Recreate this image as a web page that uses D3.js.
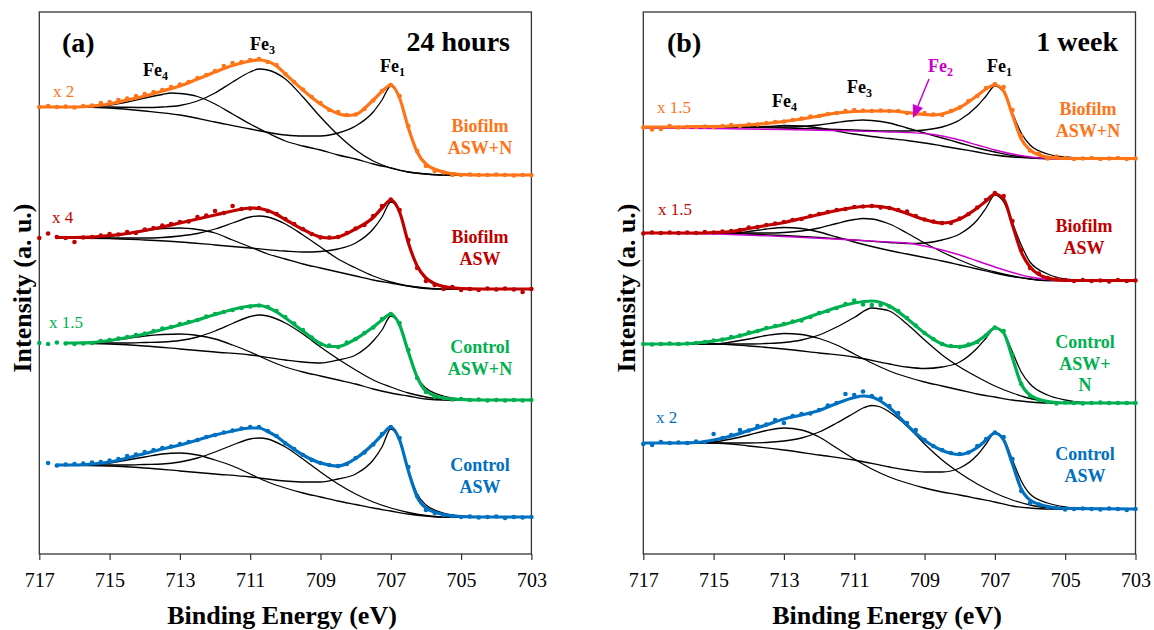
<!DOCTYPE html>
<html><head><meta charset="utf-8">
<script src="https://cdn.jsdelivr.net/npm/d3@7"></script>
<style>
body{margin:0;background:#fff}svg{display:block}
svg text{font-family:"Liberation Serif","Times New Roman",Tinos,"DejaVu Serif",serif;}
</style>
</head><body>
<svg id="chart" width="1154" height="630"></svg>
<script>
// ---------- DATA ----------
const xTicks = [717, 715, 713, 711, 709, 707, 705, 703];
const energyGrid = [717,716.75,716.5,716.25,716,715.75,715.5,715.25,715,714.75,714.5,714.25,714,713.75,713.5,713.25,713,712.75,712.5,712.25,712,711.75,711.5,711.25,711,710.75,710.5,710.25,710,709.75,709.5,709.25,709,708.75,708.5,708.25,708,707.75,707.5,707.25,707,706.75,706.5,706.25,706,705.75,705.5,705.25,705,704.75,704.5,704.25,704,703.75,703.5,703.25,703];

// Panel (a) 24 hours — measured points (intensity, a.u., stacked)
const dotsA_BioN = [447,448,447,447.5,446.5,448,448.5,451,452,454,455.5,458,460,462,464,467,469.5,472,476,479,483,488,491,492,494,495,492,489,480,472,464.5,457,451,444,442,439,439.5,445,453.5,463,469,458,428,403,388,383,381.5,379,379,379.5,379,379,379.5,379,378.5,379,379];
const dotsA_Bio = [316,320.5,317,316,312,316.5,317,318.5,320,319.5,322,321,324.5,326,328.5,330,332,332.5,337,338.5,343,341,348,345,345.5,346,343,340,335,330,325,320,316.5,316.5,317,321,325.5,329,338,348,354.5,344,314,286,273,269,265,267,264,265,264,265.5,264.5,265.5,264.5,262,265];
const dotsA_CtlN = [211,210,211.5,210.5,210,210.5,211,213,214,215.5,217,219,220.5,223,225.5,227,230,232,234,237.5,240,242,244,246,247.5,248.5,247,243,237,230.5,224,216.5,210,208.5,207,211.5,215,221,226.5,235,240,231,204,176,162,157,156,154.5,155,154,154.5,153.5,154,153.5,154,153.5,154];
const dotsA_Ctl = [null,91,88.5,89.5,90,90.5,91.5,92,93.5,95,98,99.5,102,104,106,107.5,110,112,114,117,119,121.5,123.5,125.5,127,127,123,118,110.5,105,99,94,91,89,88,90,96,101.5,109.5,120,127,116,87,58,44,41,39,38,37,37.5,36.5,37,37.5,36,37,36.5,37];

// Panel (a) fitted envelopes [BE, intensity]
const fitA_BioN = [[717,447],[716.5,447],[716,447],[715.5,448],[715,450],[714.5,454],[714,458],[713.5,463],[713,468],[712.5,475],[712,482],[711.5,488.5],[711,493],[710.75,494],[710.5,492.5],[710.25,488],[710,480],[709.5,464],[709,450],[708.5,440.5],[708.25,438.5],[708,439.5],[707.5,454],[707.25,462.5],[707,469],[706.75,456],[706.5,426],[706.25,402],[706,390],[705.5,382],[705,379.5],[704.5,379],[703,379]];
const fitA_Bio = [[716.5,316.5],[716,316.5],[715.5,317],[715,318.5],[714.5,320.5],[714,323.5],[713.5,327],[713,331],[712.5,335],[712,339],[711.5,343],[711,346],[710.75,345.5],[710.5,343.5],[710.25,339.5],[710,334.5],[709.5,324.5],[709,317],[708.75,316],[708.5,317],[708,325],[707.5,336.5],[707.25,346],[707,354],[706.75,342],[706.5,311],[706.25,288],[706,276],[705.5,267.5],[705,265.5],[704.5,265],[703,265]];
const fitA_CtlN = [[716.25,211],[716,211],[715.5,211.5],[715,213.5],[714.5,216.5],[714,220],[713.5,224.5],[713,229],[712.5,234],[712,239.5],[711.5,244.5],[711,248],[710.75,248.5],[710.5,246.5],[710.25,242],[710,236],[709.5,223],[709,210.5],[708.75,207.5],[708.5,207.5],[708,215],[707.5,227],[707.25,234],[707,240],[706.75,229],[706.5,202],[706.25,177],[706,163],[705.5,156],[705,154.5],[704.5,154],[703,154]];
const fitA_Ctl = [[716.5,89],[716,89],[715.5,90],[715,92],[714.5,96],[714,100.5],[713.5,105],[713,109],[712.5,114],[712,119],[711.5,123],[711,126],[710.75,126],[710.5,122.5],[710.25,117.5],[710,111],[709.5,99],[709,91],[708.5,88],[708.25,90.5],[708,95.5],[707.5,110],[707.25,119],[707,127],[706.75,114],[706.5,83],[706.25,57],[706,46],[705.5,39.5],[705,37.5],[704.5,37],[703,37]];

// Panel (a) components (peak + background)
const fe1A_BioN = [[717,447],[716,447],[715,446],[714,443],[713,439],[712,432],[711,425],[710,419],[709.5,418],[709,418],[708.5,421],[708,428],[707.5,442],[707.25,454],[707,468],[706.75,456],[706.5,426],[706.25,402],[706,390],[705.5,382],[705,380],[704.5,379],[703,379]];
const fe3A_BioN = [[717,447],[715,447],[714,446.5],[713.5,447],[713,448.5],[712.5,453],[712,461],[711.5,472],[711,482],[710.75,485],[710.5,484],[710,475],[709.5,457],[709,437],[708.5,419],[708,404],[707.5,393],[707,386],[706.5,382],[706,380],[705.5,379],[703,379]];
const fe4A_BioN = [[717,447],[716,447],[715.5,447.5],[715,449],[714.5,452],[714,456],[713.5,459.5],[713.25,461],[713,460.5],[712.5,457.5],[712,450],[711.5,440],[711,430],[710.5,421],[710,413],[709.5,408],[709,404],[708.5,399],[708,395],[707.5,390],[707,386],[706.5,382],[706,380],[705.5,379],[703,379]];
const fe1A_Bio = [[716.5,316],[715,315.5],[714,314],[713,312],[712,309],[711,306],[710,303],[709.5,302],[709,302.5],[708.5,305],[708,311],[707.5,325],[707.25,337],[707,352],[706.75,342],[706.5,311],[706.25,288],[706,275],[705.5,268],[705,265.5],[704.5,265],[703,265]];
const fe3A_Bio = [[716.5,316],[714,316],[713.5,316.5],[713,318],[712.5,320.5],[712,325],[711.5,331],[711,337],[710.75,338],[710.5,337],[710,330],[709.5,319],[709,307],[708.5,295],[708,286],[707.5,278],[707,272],[706.5,268],[706,265.5],[705.5,265],[703,265]];
const fe4A_Bio = [[716.5,316],[715.5,316.5],[715,317.5],[714.5,320],[714,323],[713.5,325.5],[713,326],[712.5,324.5],[712,321],[711.5,314],[711,307],[710.5,300],[710,295],[709.5,290],[709,286],[708.5,282],[708,278],[707.5,274],[707,271],[706.5,268],[706,266],[705.5,265],[703,265]];
const fe1A_CtlN = [[716.25,211],[715,210],[714,208],[713,205],[712,202],[711,199],[710,194],[709.5,192],[709,191],[708.5,194],[708,199],[707.5,213],[707.25,224],[707,238],[706.75,230],[706.5,203],[706.25,177],[706,166],[705.5,158],[705,155],[704.5,154],[703,154]];
const fe3A_CtlN = [[716.25,211],[714.5,211],[714,211.5],[713.5,212],[713,213.5],[712.5,217],[712,223],[711.5,230.5],[711,237.5],[710.75,239],[710.5,238],[710,231],[709.5,220],[709,207],[708.5,195],[708,184],[707.5,174],[707,167],[706.5,161],[706,157],[705.5,154.5],[705,154],[703,154]];
const fe4A_CtlN = [[716.25,211],[715.5,211.5],[715,213],[714.5,215.5],[714,218],[713.5,219.5],[713,220],[712.5,218.5],[712,215],[711.5,209],[711,202],[710.5,194],[710,187],[709.5,182],[709,178],[708.5,174],[708,170],[707.5,165],[707,161],[706.5,158],[706,155],[705.5,154],[703,154]];
const fe1A_Ctl = [[716.5,89],[715,88],[714,86],[713,83],[712,80],[711,77],[710,73],[709.5,72],[709,72],[708.5,75],[708,80],[707.5,94],[707.25,107],[707,125],[706.75,114],[706.5,84],[706.25,60],[706,49],[705.5,41],[705,38],[704.5,37],[703,37]];
const fe3A_Ctl = [[716.5,89],[714.5,89],[714,89.5],[713.5,90],[713,92],[712.5,96],[712,102],[711.5,109],[711,115],[710.75,116],[710.5,115],[710,107],[709.5,95],[709,82],[708.5,70],[708,60],[707.5,52],[707,46],[706.5,41.5],[706,38.5],[705.5,37],[703,37]];
const fe4A_Ctl = [[716.5,89],[715.5,89.5],[715,91],[714.5,94],[714,97],[713.5,100],[713,101],[712.5,99],[712,94],[711.5,88],[711,80],[710.5,72],[710,66],[709.5,61],[709,57],[708.5,53],[708,49.5],[707.5,46],[707,43],[706.5,40],[706,38],[705.5,37],[703,37]];

// Panel (b) 1 week — measured points
const dotsB_BioN = [426.5,424.5,425,428,426.5,427,427,427.5,427,428,429,428,429.5,429.5,431,432,432.5,434,435.5,437.5,438,440,441,443,444,443.5,443,443.5,443,443,441,440,441,439.5,439,443,446.5,453,458,466,470,467,444,418,403.5,400.5,395.5,397.5,396,395,395.5,396,395,395.5,396,395,395.5];
const dotsB_Bio = [320.5,321.5,321,321.5,321,321.5,321,322,321.5,322.5,323,324,326.5,327,329,330.5,332,334,335,338,340,342,344,345,347,347.5,348,346.5,346,344,342.5,338,334.5,332.5,331,331,335.5,340,346.5,354,361,358,333,304,286,280.5,276,275,274,273,274,273,273.5,272.5,274,273,273.5];
const dotsB_CtlN = [210,209.5,210,210.5,210,210.5,211,212,213.5,214.5,217,218.5,221.5,223,226,228,230,232.5,233.5,237,241,243,246,250,253.5,249.5,249,249,247.5,243,236,228.5,221,215,210,208,207,209.5,212,218.5,226.5,223,199,170,158,154,152,150.5,151.5,151,150.5,151,151.5,151,151,151,151];
const dotsB_Ctl = [110,109,112,111,111.5,111,112.5,112,120,116,119,124,123.5,128,129.5,134,131,138,140,140.5,144,148.5,151,160,159,162.5,158,155.5,148,141,131,124,114,108,104,101,100,101.5,108,115,121.5,117,95,63,51,49.5,47,46,44.5,45,45.5,45,44.5,45.5,45,44,45];

// Panel (b) fitted envelopes
const fitB_BioN = [[717,427],[716,427],[715.5,427.5],[715,427.5],[714.5,428],[714,429],[713.5,430.5],[713,432.5],[712.5,435],[712,438],[711.5,441],[711,442.5],[710.5,443],[710,443],[709.5,441.5],[709,439.5],[708.75,439],[708.5,440],[708,446.5],[707.5,458.5],[707.25,465],[707,469],[706.75,463],[706.5,439],[706.25,415],[706,404],[705.75,399],[705.5,397],[705,395.5],[703,395.5]];
const fitB_Bio = [[717,321],[716,321],[715.5,321],[715,321.5],[714.5,322.5],[714,325.5],[713.5,328.5],[713,331.5],[712.5,335.5],[712,339.5],[711.5,343.5],[711,346.5],[710.5,348],[710,346],[709.5,340.5],[709,334.5],[708.5,331],[708.25,332],[708,335],[707.5,346],[707.25,353],[707,360],[706.75,355],[706.5,329],[706.25,302],[706,287],[705.75,279.5],[705.5,276],[705,273.5],[703,273.5]];
const fitB_CtlN = [[717,210],[716,210],[715.5,211],[715,213],[714.5,216],[714,220.5],[713.5,225.5],[713,229.5],[712.5,234.5],[712,240.5],[711.5,246.5],[711,251],[710.5,253],[710,248],[709.5,235.5],[709,221],[708.5,210],[708.25,207.5],[708,207.5],[707.5,212.5],[707.25,219],[707,226],[706.75,221],[706.5,196],[706.25,170],[706,159],[705.5,152.5],[705,151],[703,151]];
const fitB_Ctl = [[717,111],[716,111],[715.5,111.5],[715,114],[714.5,118],[714,123.5],[713.5,129],[713,135],[712.5,139],[712,143.5],[711.5,150.5],[711,156.5],[710.75,158],[710.5,157],[710,146.5],[709.5,129],[709,113.5],[708.5,103.5],[708,99.5],[707.5,106.5],[707.25,114],[707,121],[706.75,114],[706.5,90],[706.25,65],[706,54],[705.5,47.5],[705,45.5],[703,45]];

// Panel (b) components
const fe1B_BioN = [[717,427],[715,427],[714,426.5],[713,426],[712,425],[711,424],[710,423],[709.5,423],[709,424],[708.5,427],[708,434],[707.5,448],[707.25,458],[707,468],[706.75,462],[706.5,441],[706.25,421],[706,409],[705.5,400],[705,397],[704.5,396],[703,395.5]];
const fe3B_BioN = [[717,427],[713,427],[712.5,427.5],[712,429],[711.5,431.5],[711,433.5],[710.75,434],[710.5,433.5],[710,431],[709.5,426],[709,421],[708.5,416],[708,411],[707.5,406],[707,402],[706.5,398.5],[706,396.5],[705.5,395.5],[703,395.5]];
const fe4B_BioN = [[717,427],[714,427],[713.5,427.5],[713,428.5],[712.5,428],[712,426],[711.5,423],[711,420],[710.5,417.5],[710,415.5],[709.5,413.5],[709,411],[708.5,408],[708,405],[707.5,402],[707,399],[706.5,397],[706,396],[705.5,395.5],[703,395.5]];
const fe2B_BioN = [[717,426],[715,425.5],[713,424.5],[711,423],[710,422],[709.5,421.5],[709,420.5],[708.5,418],[708,414],[707.5,409],[707,404],[706.5,400],[706,397],[705.5,395.5],[705,395],[703,395]];
const fe1B_Bio = [[717,321],[715,321],[714,320],[713,318.5],[712,316.5],[711,314],[710,311.5],[709.5,310.5],[709,311],[708.5,314],[708,320],[707.5,334],[707.25,346],[707,359],[706.75,352],[706.5,331],[706.25,309],[706,292],[705.5,280],[705,275],[704.5,273.5],[703,273.5]];
const fe3B_Bio = [[717,321],[713.5,321],[713,321.5],[712.5,323],[712,326],[711.5,330.5],[711,334.5],[710.75,335.5],[710.5,335],[710,330],[709.5,321],[709,311],[708.5,302],[708,294],[707.5,287],[707,282],[706.5,278],[706,275],[705.5,273.5],[703,273.5]];
const fe4B_Bio = [[717,321],[714.5,321],[714,322.5],[713.5,325],[713,326.5],[712.5,325.5],[712,322],[711.5,317],[711,312],[710.5,307.5],[710,303.5],[709.5,300],[709,296.5],[708.5,293],[708,289],[707.5,285],[707,281],[706.5,277.5],[706,275],[705.5,273.5],[703,273.5]];
const fe2B_Bio = [[717,321],[715,320],[713,317.5],[711,314],[710,312],[709.5,311],[709,308],[708.5,304],[708,299],[707.5,293],[707,287],[706.5,281.5],[706,277],[705.5,274.5],[705,273.5],[703,273]];
const fe1B_CtlN = [[717,210],[715,210],[714,208],[713,205],[712,201],[711,197],[710,190],[709.5,187],[709,185.5],[708.5,187],[708,192],[707.5,206],[707.25,216],[707,226],[706.75,221],[706.5,202],[706.25,182],[706,170],[705.5,159],[705,154],[704.5,151.5],[704,151],[703,151]];
const fe3B_CtlN = [[717,210],[714,210],[713.5,210.5],[713,211.5],[712.5,214],[712,219],[711.5,227],[711,236.5],[710.5,246],[710.25,245],[710,243],[709.5,230],[709,214],[708.5,199],[708,187],[707.5,177],[707,168],[706.5,161],[706,155.5],[705.5,152.5],[705,151],[703,151]];
const fe4B_CtlN = [[717,210],[715,210],[714.5,212],[714,215],[713.5,218.5],[713,220.5],[712.5,219.5],[712,215.5],[711.5,209],[711,200],[710.5,191],[710,183],[709.5,177],[709,172],[708.5,168],[708,164],[707.5,160],[707,157],[706.5,154],[706,152],[705.5,151],[703,151]];
const fe1B_Ctl = [[717,111],[715,111],[714,108],[713,104],[712,99],[711,94],[710,87],[709.5,84],[709,82],[708.5,82],[708,86],[707.5,99],[707.25,110],[707,121],[706.75,115],[706.5,94],[706.25,73],[706,60],[705.5,51],[705,47],[704.5,45.5],[704,45],[703,45]];
const fe3B_Ctl = [[717,111],[714,111],[713.5,111.5],[713,113],[712.5,116],[712,122],[711.5,131],[711,141],[710.75,146],[710.5,148.5],[710.25,147],[710,142],[709.5,128],[709,110],[708.5,94],[708,81],[707.5,70],[707,61],[706.5,54],[706,49],[705.5,46],[705,45],[703,45]];
const fe4B_Ctl = [[717,111],[715.5,111],[715,112],[714.5,115],[714,119],[713.5,123.5],[713,126],[712.5,124],[712,117],[711.5,106],[711,95],[710.5,85],[710,77],[709.5,71],[709,66],[708.5,62],[708,59],[707.5,55.5],[707,52],[706.5,48],[706,46],[705.5,45],[703,45]];

// Labels
const sampleLinesA = [["Biofilm","ASW+N"],["Biofilm","ASW"],["Control","ASW+N"],["Control","ASW"]];
const sampleLinesB = [["Biofilm","ASW+N"],["Biofilm","ASW"],["Control","ASW+","N"],["Control","ASW"]];
const multA = ["x 2","x 4","x 1.5",""];
const multB = ["x 1.5","x 1.5","","x 2"];
const seriesColors = ["#FF7418","#C00000","#00B050","#0070C0"];
const fe2Color = "#CC00CC";

// ---------- LAYOUT ----------
const plotTop = 12, plotBottom = 554;
const svg = d3.select("#chart");
const y = d3.scaleLinear().domain([0, 542]).range([plotBottom, plotTop]);

const panels = [
  { range:[39.3,531.4], tag:"(a)", title:"24 hours", tagX:62, titleX:510,
    dots:[dotsA_BioN,dotsA_Bio,dotsA_CtlN,dotsA_Ctl],
    fits:[fitA_BioN,fitA_Bio,fitA_CtlN,fitA_Ctl],
    comps:[[fe1A_BioN,fe3A_BioN,fe4A_BioN],[fe1A_Bio,fe3A_Bio,fe4A_Bio],[fe1A_CtlN,fe3A_CtlN,fe4A_CtlN],[fe1A_Ctl,fe3A_Ctl,fe4A_Ctl]],
    fe2:[null,null,null,null],
    lines:sampleLinesA, mult:multA,
    labelX:[480,480,480,480], labelY:[132,243,353,471],
    multPos:[[53,97],[52,223],[49,328],[0,0]],
    peaks:[{sub:"4",x:143,y:76,c:"#000"},{sub:"3",x:250,y:50,c:"#000"},{sub:"1",x:380,y:72,c:"#000"}],
    yTitleX:31, xTitleX:282 },
  { range:[643.3,1135.5], tag:"(b)", title:"1 week", tagX:667, titleX:1118,
    dots:[dotsB_BioN,dotsB_Bio,dotsB_CtlN,dotsB_Ctl],
    fits:[fitB_BioN,fitB_Bio,fitB_CtlN,fitB_Ctl],
    comps:[[fe1B_BioN,fe3B_BioN,fe4B_BioN],[fe1B_Bio,fe3B_Bio,fe4B_Bio],[fe1B_CtlN,fe3B_CtlN,fe4B_CtlN],[fe1B_Ctl,fe3B_Ctl,fe4B_Ctl]],
    fe2:[fe2B_BioN,fe2B_Bio,null,null],
    lines:sampleLinesB, mult:multB,
    labelX:[1088,1084,1085,1085], labelY:[115,232,348,460],
    multPos:[[657,113],[658,215],[0,0],[656,423]],
    peaks:[{sub:"4",x:772,y:107,c:"#000"},{sub:"3",x:847,y:93,c:"#000"},{sub:"2",x:928,y:72,c:fe2Color},{sub:"1",x:987,y:72,c:"#000"}],
    yTitleX:635, xTitleX:887 }
];

panels.forEach((p, pi) => {
  const x = d3.scaleLinear().domain([717, 703]).range(p.range);
  const g = svg.append("g");
  const line = d3.line().x(d => x(d[0])).y(d => y(d[1])).curve(d3.curveMonotoneX);

  // axis
  const ax = g.append("g").attr("transform", `translate(0,${plotBottom})`)
    .call(d3.axisBottom(x).tickValues(xTicks).tickSize(6).tickPadding(13).tickFormat(d3.format("d")));
  ax.attr("font-family", null);
  ax.select(".domain").remove();
  ax.selectAll(".tick line").attr("stroke", "#333").attr("stroke-width", 1.2);
  ax.selectAll(".tick text").attr("font-size", 20).attr("fill", "#000");

  // frame
  g.append("rect").attr("x", p.range[0]).attr("y", plotTop)
    .attr("width", p.range[1] - p.range[0]).attr("height", plotBottom - plotTop)
    .attr("fill", "none").attr("stroke", "#333").attr("stroke-width", 1.3);

  // spectra
  p.fits.forEach((fit, si) => {
    const col = seriesColors[si];
    p.comps[si].forEach(c => {
      g.append("path").attr("d", line(c)).attr("fill", "none").attr("stroke", "#000").attr("stroke-width", 1.3);
    });
    if (p.fe2[si]) {
      g.append("path").attr("d", line(p.fe2[si])).attr("fill", "none").attr("stroke", fe2Color).attr("stroke-width", 1.4);
    }
    g.append("path").attr("d", line(fit)).attr("fill", "none").attr("stroke", col).attr("stroke-width", 3.2);
    const pts = energyGrid.map((e, i) => [e, p.dots[si][i]]).filter(d => d[1] != null);
    g.selectAll(null).data(pts).enter().append("circle")
      .attr("cx", d => x(d[0])).attr("cy", d => y(d[1])).attr("r", 2.3).attr("fill", col);

    // sample label
    const t = g.append("text").attr("font-weight", "bold")
      .attr("font-size", 18).attr("fill", col).attr("text-anchor", "middle");
    p.lines[si].forEach((s, li) => {
      t.append("tspan").attr("x", p.labelX[si]).attr("y", p.labelY[si] + li * 21.5).text(s);
    });
    if (p.mult[si]) {
      g.append("text").attr("x", p.multPos[si][0]).attr("y", p.multPos[si][1])
        .attr("font-size", 17).attr("fill", col).text(p.mult[si]);
    }
  });

  // peak labels
  p.peaks.forEach(pk => {
    const t = g.append("text").attr("x", pk.x).attr("y", pk.y)
      .attr("font-weight", "bold").attr("font-size", 18).attr("fill", pk.c);
    t.append("tspan").text("Fe");
    t.append("tspan").attr("font-size", 12).attr("dy", 4).text(pk.sub);
  });

  // tag + title
  g.append("text").attr("x", p.tagX).attr("y", 52).attr("font-weight", "bold")
    .attr("font-size", 28).text(p.tag);
  g.append("text").attr("x", p.titleX).attr("y", 51).attr("font-weight", "bold")
    .attr("font-size", 28).attr("text-anchor", "end").text(p.title);

  // axis titles
  g.append("text").attr("x", p.xTitleX).attr("y", 624)
    .attr("font-weight", "bold").attr("font-size", 26)
    .attr("text-anchor", "middle").text("Binding Energy (eV)");
  g.append("text").attr("transform", `translate(${p.yTitleX},288) rotate(-90)`)
    .attr("font-weight", "bold").attr("font-size", 26)
    .attr("text-anchor", "middle").text("Intensity (a. u.)");

  // Fe2 arrow (panel b)
  if (pi === 1) {
    const x1 = 929, y1 = 79, x2 = 913, y2 = 118;
    const ang = Math.atan2(y2 - y1, x2 - x1), L = 13, W = 5.5;
    const bx = x2 - L * Math.cos(ang), by = y2 - L * Math.sin(ang);
    g.append("line").attr("x1", x1).attr("y1", y1).attr("x2", bx).attr("y2", by)
      .attr("stroke", fe2Color).attr("stroke-width", 1.5);
    g.append("polygon").attr("points", [
      [x2, y2],
      [bx + W * Math.sin(ang), by - W * Math.cos(ang)],
      [bx - W * Math.sin(ang), by + W * Math.cos(ang)]
    ].map(q => q.join(",")).join(" ")).attr("fill", fe2Color);
  }
});
</script>
</body></html>
